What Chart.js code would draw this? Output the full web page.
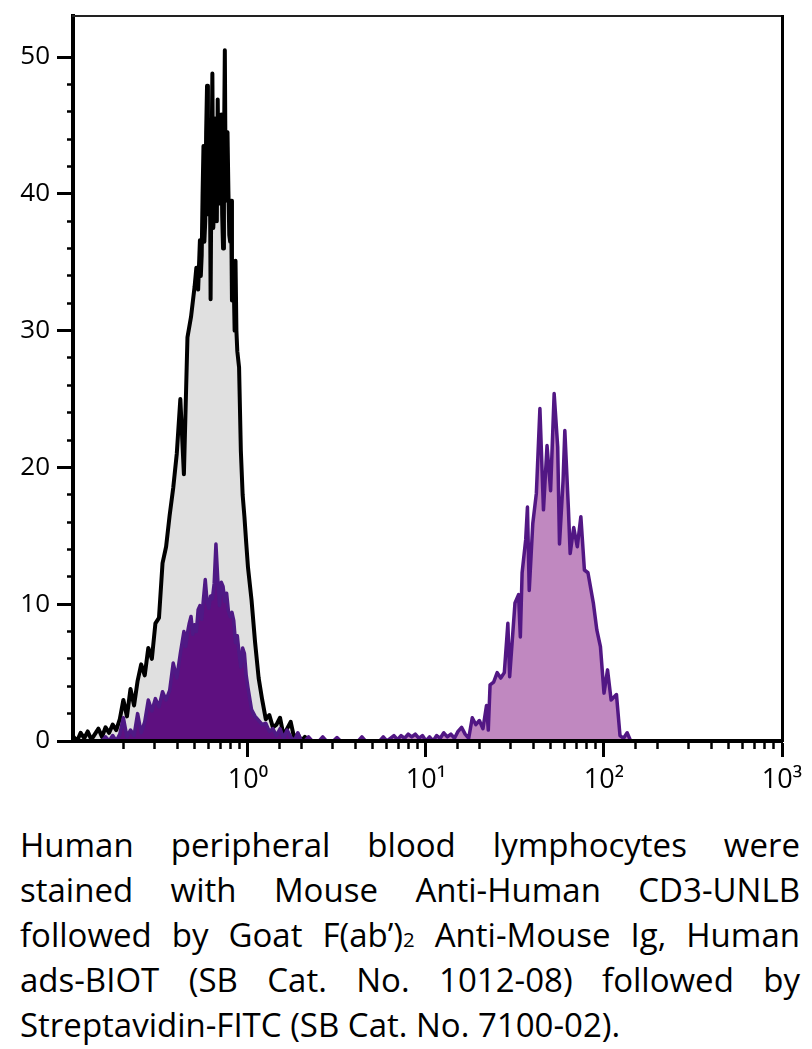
<!DOCTYPE html>
<html>
<head>
<meta charset="utf-8">
<script src="https://cdn.jsdelivr.net/npm/chart.js@4"></script>
<style>
  html, body { margin: 0; padding: 0; background: #fff; }
  #wrap { position: absolute; left: 0; top: 0; width: 812px; height: 800px; }
  #cap { position: absolute; left: 20px; top: 822px; width: 780px; font-family: "Open Sans", sans-serif; font-size: 33px; line-height: 45px; color: #000; }
  #cap div { text-align: justify; text-align-last: justify; height: 45px; }
  #cap div.last { text-align-last: left; }
  #cap .sub { font-size: 0.62em; line-height: 0; }
</style>
</head>
<body>
<div id="wrap"><canvas id="c" width="812" height="800"></canvas></div>
<div id="cap">
  <div>Human peripheral blood lymphocytes were</div>
  <div>stained with Mouse Anti-Human CD3-UNLB</div>
  <div>followed by Goat F(ab’)<span class="sub">2</span> Anti-Mouse Ig, Human</div>
  <div>ads-BIOT (SB Cat. No. 1012-08) followed by</div>
  <div class="last">Streptavidin-FITC (SB Cat. No. 7100-02).</div>
</div>
<script>
// ---- data (x = log10 fluorescence, y = count) ----
const isotypeLog = [-0.98,-0.96,-0.94,-0.92,-0.90,-0.88,-0.86,-0.84,-0.82,-0.80,-0.78,-0.76,-0.74,-0.72,-0.70,-0.68,-0.66,-0.64,-0.62,-0.60,-0.58,-0.56,-0.54,-0.52,-0.50,-0.48,-0.46,-0.44,-0.42,-0.40,-0.38,-0.36,-0.34,-0.32,
  -0.30,-0.29,-0.28,
  -0.270,-0.265,-0.260,-0.255,-0.250,-0.245,-0.240,-0.235,-0.230,-0.225,-0.220,-0.215,-0.210,-0.205,-0.200,-0.195,-0.190,-0.185,-0.180,-0.175,-0.170,-0.165,-0.160,-0.155,-0.150,-0.145,-0.140,-0.135,-0.130,-0.125,-0.120,-0.115,-0.110,-0.105,-0.100,-0.095,-0.090,-0.085,-0.080,-0.075,-0.070,-0.065,-0.060,
  -0.05,-0.04,-0.03,-0.02,-0.01,
  0.00,0.02,0.04,0.06,0.08,0.10,0.12,0.14,0.16,0.18,0.20,0.22,0.24,0.26,0.28,0.30,0.32,0.34];
const isotypeCount = [0.3,0,0.6,0.2,0.7,0.1,0.5,0.9,0.3,1.0,0.6,1.2,0.8,1.6,3.0,1.8,3.8,2.6,4.4,5.6,4.8,6.8,6.0,8.6,9.0,13.0,14.2,16.5,18.5,21.0,25.0,19.5,29.5,31.0,
  33.2,34.6,33.0,
  36.6,34.0,35.5,40.0,43.5,36.5,38.0,44.5,47.9,38.5,40.0,45.0,32.3,42.0,48.8,37.5,39.0,45.5,44.0,38.0,46.9,41.0,39.3,44.0,45.8,38.5,36.0,43.0,50.5,39.5,41.0,44.5,40.2,37.0,36.5,39.5,32.2,34.0,33.5,30.0,35.1,30.0,28.5,
  27.3,21.2,18.0,16.4,14.5,
  12.7,10.3,7.2,4.6,3.0,1.6,1.9,1.0,1.2,1.7,0.4,0.9,1.4,0.2,0.5,0,0.3,0];

const stainedNegLog = [-0.82,-0.80,-0.78,-0.76,-0.74,-0.72,-0.70,-0.68,-0.66,-0.64,-0.62,-0.60,-0.58,-0.56,-0.54,-0.52,-0.50,-0.48,-0.46,-0.44,-0.42,-0.40,-0.38,
  -0.36,-0.35,-0.34,-0.33,-0.32,-0.31,-0.30,-0.29,-0.28,-0.27,-0.26,-0.25,-0.24,-0.23,-0.22,-0.21,-0.20,-0.19,-0.18,-0.17,-0.16,-0.15,-0.14,-0.13,-0.12,-0.11,-0.10,-0.09,-0.08,-0.07,-0.06,-0.05,-0.04,-0.03,-0.02,-0.01,
  0.00,0.02,0.04,0.06,0.08,0.10,0.12,0.14,0.16,0.18,0.20,0.22,0.24,0.26,0.28,0.30];
const stainedNegCount = [0,0.3,0,0.4,0,0.5,1.7,0.3,0.8,0.4,2.0,0.6,1.4,3.0,2.2,3.1,2.5,3.6,3.0,3.7,5.7,4.6,6.4,
  8.0,6.9,7.9,8.6,9.1,7.8,8.5,8.0,9.6,9.9,8.9,10.4,11.8,10.2,9.7,10.6,10.4,11.5,14.4,11.9,9.9,11.6,11.3,10.2,10.8,9.5,9.1,9.4,8.8,7.2,7.7,6.4,5.4,6.8,6.4,4.8,
  3.9,2.3,1.8,1.5,1.2,1.3,0.7,0.9,0.4,0.9,0.2,0.8,0.3,0,0.6,0];

const stainedPosLog = [0.32,0.34,0.36,0.40,0.42,0.44,0.48,0.50,0.52,0.62,0.64,0.66,0.74,0.76,0.78,0.80,0.82,0.84,0.86,0.88,0.90,0.92,0.94,0.96,0.98,
  1.00,1.02,1.04,1.06,1.08,1.10,1.12,1.14,1.16,1.18,1.20,1.22,1.24,1.26,1.28,1.30,1.32,1.34,1.35,1.36,1.38,1.40,1.42,1.44,1.46,1.47,1.48,1.50,1.52,1.53,1.54,1.56,1.57,1.58,
  1.60,1.62,1.64,1.66,1.68,1.70,1.72,1.74,1.75,1.77,1.78,1.80,1.81,1.83,1.85,1.87,1.89,1.91,1.94,1.96,1.98,2.00,2.02,2.04,2.07,2.09,2.11,2.13,2.15,2.17];
const stainedPosCount = [0,0.3,0,0,0.3,0,0,0.25,0,0,0.3,0,0,0.3,0,0.2,0.4,0.1,0.4,0.2,0.5,0.3,0.5,0.2,0.4,
  0,0.3,0,0.4,0.2,0.6,0.3,0.5,0.2,0.7,1.0,0.5,0.2,1.7,1.2,1.5,0.9,2.6,0.8,4.1,4.3,5.0,4.6,5.0,8.6,4.7,6.5,10.1,10.7,7.6,12.3,14.7,17.1,11.0,
  15.9,18.1,24.3,16.9,21.6,18.3,25.4,21.5,14.4,19.0,22.7,17.0,13.7,15.6,14.2,16.4,12.5,12.3,10.1,8.1,6.9,3.5,5.2,3.0,3.4,0.4,0.2,0.6,0,0];

const xMin = 0.104, xMax = 1000;
const yMin = 0, yMax = 53, yStep = 2, yLabelEvery = 10;
const decadeValues = [1, 10, 100, 1000];
const decadeLabels = ['10⁰', '10¹', '10²', '10³'];

// ---- chart ----
const toPoints = (logs, counts) => logs.map((l, i) => ({ x: Math.pow(10, l), y: counts[i] }));
const decadeIndex = v => decadeValues.findIndex(d => Math.abs(v - d) / d < 1e-6);
const FONT = { family: '"Open Sans", sans-serif', size: 26 };

new Chart(document.getElementById('c'), {
  type: 'line',
  data: {
    datasets: [
      { label: 'Stained (low)', data: toPoints(stainedNegLog, stainedNegCount), borderColor: '#4f1985', backgroundColor: '#5e1080', fill: 'origin', borderWidth: 3.5, pointRadius: 0, tension: 0, borderJoinStyle: 'round' },
      { label: 'Stained (high)', data: toPoints(stainedPosLog, stainedPosCount), borderColor: '#521784', backgroundColor: '#c088c0', fill: 'origin', borderWidth: 3.5, pointRadius: 0, tension: 0, borderJoinStyle: 'round' },
      { label: 'Isotype control', data: toPoints(isotypeLog, isotypeCount), borderColor: '#000000', backgroundColor: '#e0e0e0', fill: 'origin', borderWidth: 4, pointRadius: 0, tension: 0, borderJoinStyle: 'round' }
    ]
  },
  options: {
    responsive: false,
    animation: false,
    devicePixelRatio: 1,
    layout: { padding: { top: 16, right: 30, left: 0, bottom: 0 } },
    plugins: { legend: { display: false }, tooltip: { enabled: false } },
    scales: {
      x: {
        type: 'logarithmic', position: 'bottom', min: xMin, max: xMax,
        border: { display: true, color: '#000', width: 4, z: 1 },
        grid: {
          drawOnChartArea: false, drawTicks: true, tickLength: 16, tickColor: '#000',
          tickWidth: c => (c.tick && decadeIndex(c.tick.value) >= 0) ? 3 : 2.5,
          tickBorderDash: c => (c.tick && decadeIndex(c.tick.value) >= 0) ? [] : [6, 60]
        },
        ticks: {
          autoSkip: false, maxRotation: 0, minRotation: 0, padding: 7, color: '#000', font: { family: FONT.family, size: 27 },
          callback: v => { const i = decadeIndex(v); return i >= 0 ? decadeLabels[i] : ''; }
        },
        afterBuildTicks: s => { s.ticks = s.ticks.filter(t => t.value > xMin * 1.5); },
        afterFit: s => { s.height = 59; s.paddingLeft = 0; s.paddingRight = 0; }
      },
      y: {
        type: 'linear', position: 'left', min: yMin, max: yMax,
        border: { display: true, color: '#000', width: 4, z: 1 },
        grid: {
          drawOnChartArea: false, drawTicks: true, tickLength: 16, tickColor: '#000',
          tickWidth: c => (c.tick && c.tick.value % yLabelEvery === 0) ? 3 : 2.5,
          tickBorderDash: c => (c.tick && c.tick.value % yLabelEvery === 0) ? [] : [0, 10, 6, 60]
        },
        ticks: {
          stepSize: yStep, autoSkip: false, padding: 7, color: '#000', font: FONT,
          callback: v => (v % yLabelEvery === 0 ? String(v) : '')
        },
        afterBuildTicks: s => { s.ticks = s.ticks.filter(t => t.value % yStep === 0); },
        afterFit: s => { s.width = 73; s.paddingTop = 0; s.paddingBottom = 0; }
      },
      xTop: {
        type: 'linear', position: 'top', min: 0, max: 1,
        border: { display: true, color: '#222', width: 2, z: 1 },
        grid: { drawOnChartArea: false, drawTicks: false },
        ticks: { display: false },
        afterFit: s => { s.height = 0; s.paddingLeft = 0; s.paddingRight = 0; }
      },
      yRight: {
        type: 'linear', position: 'right', min: 0, max: 1,
        border: { display: true, color: '#000', width: 3, z: 1 },
        grid: { drawOnChartArea: false, drawTicks: false },
        ticks: { display: false },
        afterFit: s => { s.width = 0; s.paddingTop = 0; s.paddingBottom = 0; }
      }
    }
  }
});
</script>
</body>
</html>
